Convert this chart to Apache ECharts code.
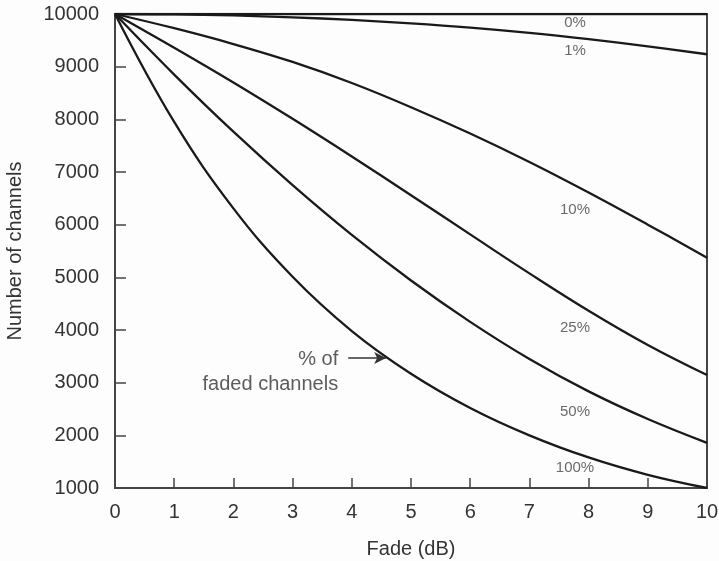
<!DOCTYPE html>
<html>
<head>
<meta charset="utf-8">
<script src="https://cdn.jsdelivr.net/npm/echarts@6/dist/echarts.min.js"></script>
<style>
html,body{margin:0;padding:0;background:#fdfdfd;}
#chart{width:719px;height:561px;}
</style>
</head>
<body>
<div id="chart"></div>
<script>
// Fade values (dB)
const fadeDb = [0, 1, 2, 3, 4, 5, 6, 7, 8, 9, 10];
// Number of channels for each percentage of faded channels
const pct0   = [10000, 10000, 10000, 10000, 10000, 10000, 10000, 10000, 10000, 10000, 10000];
const pct1   = [10000, 9992, 9972, 9937, 9887, 9822, 9742, 9642, 9522, 9387, 9236];
const pct10  = [10000, 9730, 9430, 9090, 8690, 8230, 7730, 7190, 6610, 6000, 5372];
const pct25  = [10000, 9360, 8700, 8010, 7295, 6560, 5815, 5075, 4365, 3715, 3144];
const pct50  = [10000, 8850, 7765, 6750, 5805, 4940, 4155, 3450, 2835, 2310, 1858];
const pct100 = [10000, 7950, 6310, 5010, 3980, 3170, 2520, 2000, 1580, 1250, 1000];

const seriesNames = ['0%', '1%', '10%', '25%', '50%', '100%'];
const seriesValues = [pct0, pct1, pct10, pct25, pct50, pct100];

// Curve label anchors (fade dB, channels)
const curveLabels = [
  ['0%', 7.77, 9825],
  ['1%', 7.77, 9296],
  ['10%', 7.77, 6278],
  ['25%', 7.77, 4037],
  ['50%', 7.77, 2442],
  ['100%', 7.77, 1378]
];
// Annotation text and arrow
const noteText = '% of\nfaded channels';
const noteAnchor = [3.77, 3209];
const arrowFrom = [3.94, 3467];
const arrowTo = [4.58, 3467];

const xTicks = { min: 0, max: 10, interval: 1 };
const yTicks = { min: 1000, max: 10000, interval: 1000 };

const textColor = '#333';
const lineColor = '#1a1a1a';
const fontFamily = '"Liberation Sans", Arial, sans-serif';

const chart = echarts.init(document.getElementById('chart'), null, { renderer: 'canvas' });

const series = seriesValues.map((vals, i) => ({
  name: seriesNames[i],
  type: 'line',
  data: vals.map((v, j) => [fadeDb[j], v]),
  smooth: 0.4,
  showSymbol: false,
  symbol: 'none',
  lineStyle: { color: lineColor, width: 2.3 },
  z: 3,
  silent: true
}));

series.push({
  name: 'labels',
  type: 'scatter',
  symbolSize: 0,
  silent: true,
  data: curveLabels.map(d => ({ name: d[0], value: [d[1], d[2]] })),
  label: {
    show: true,
    position: 'inside',
    formatter: p => p.name,
    color: '#444',
    fontSize: 15,
    fontFamily: fontFamily
  },
  z: 5
});

series.push({
  name: 'note',
  type: 'scatter',
  symbolSize: 0,
  silent: true,
  data: [{ name: noteText, value: noteAnchor }],
  label: {
    show: true,
    position: 'left',
    distance: 0,
    align: 'right',
    formatter: p => p.name,
    color: textColor,
    fontSize: 20,
    lineHeight: 25,
    fontFamily: fontFamily
  },
  markLine: {
    silent: true,
    symbol: ['none', 'arrow'],
    symbolSize: [9, 12],
    label: { show: false },
    lineStyle: { color: '#333', width: 1.6, type: 'solid' },
    data: [[{ coord: arrowFrom }, { coord: arrowTo }]]
  },
  z: 5
});

chart.setOption({
  backgroundColor: '#fdfdfd',
  animation: false,
  grid: {
    left: 115, right: 12, top: 14, bottom: 73,
    containLabel: false,
    outerBoundsMode: 'none',
    show: true, borderColor: '#444', borderWidth: 2, backgroundColor: 'transparent'
  },
  xAxis: {
    type: 'value',
    min: xTicks.min, max: xTicks.max, interval: xTicks.interval,
    name: 'Fade (dB)',
    nameLocation: 'middle',
    nameGap: 51,
    nameTextStyle: { color: textColor, fontSize: 20, fontFamily: fontFamily },
    axisLine: { show: true, lineStyle: { color: '#444', width: 2 } },
    axisTick: { show: true, inside: true, length: 10, lineStyle: { color: '#444', width: 1.5 } },
    axisLabel: { color: textColor, fontSize: 20, margin: 14, fontFamily: fontFamily },
    splitLine: { show: false }
  },
  yAxis: {
    type: 'value',
    min: yTicks.min, max: yTicks.max, interval: yTicks.interval,
    name: 'Number of channels',
    nameLocation: 'middle',
    nameGap: 90,
    nameTextStyle: { color: textColor, fontSize: 20, fontFamily: fontFamily },
    axisLine: { show: true, lineStyle: { color: '#444', width: 2 } },
    axisTick: { show: true, inside: true, length: 11, lineStyle: { color: '#444', width: 1.5 } },
    axisLabel: { color: textColor, fontSize: 20, margin: 16, fontFamily: fontFamily, formatter: v => String(v) },
    splitLine: { show: false }
  },
  series: series
});
</script>
</body>
</html>
